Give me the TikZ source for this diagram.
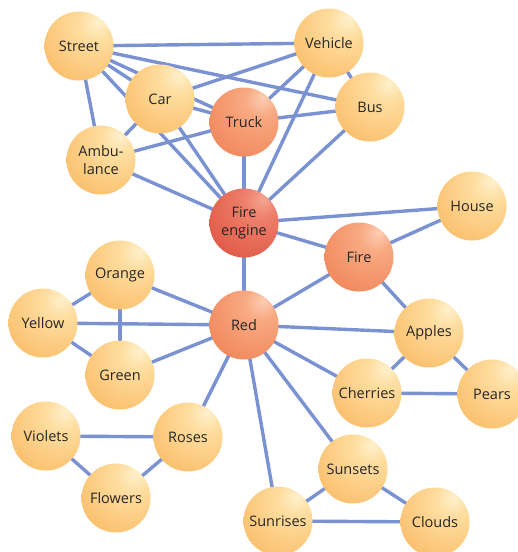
\documentclass[tikz,border=0pt]{standalone}
\usepackage{fontspec}
\setmainfont{Open Sans}
\usetikzlibrary{backgrounds}
\definecolor{edgeblue}{HTML}{7A92D2}
\definecolor{txt}{HTML}{262626}
\pgfdeclareradialshading{orangeball}{\pgfpoint{14bp}{18bp}}{%
  color(0bp)=(rgb,255:red,255;green,240;blue,205);
  color(12bp)=(rgb,255:red,254;green,222;blue,160);
  color(45bp)=(rgb,255:red,250;green,186;blue,100);
  color(75bp)=(rgb,255:red,245;green,158;blue,70);
  color(100bp)=(rgb,255:red,245;green,158;blue,70)}
\pgfdeclareradialshading{salmonball}{\pgfpoint{14bp}{18bp}}{%
  color(0bp)=(rgb,255:red,252;green,205;blue,180);
  color(12bp)=(rgb,255:red,248;green,170;blue,130);
  color(45bp)=(rgb,255:red,240;green,130;blue,86);
  color(75bp)=(rgb,255:red,234;green,110;blue,72);
  color(100bp)=(rgb,255:red,234;green,110;blue,72)}
\pgfdeclareradialshading{redball}{\pgfpoint{14bp}{18bp}}{%
  color(0bp)=(rgb,255:red,245;green,165;blue,145);
  color(12bp)=(rgb,255:red,238;green,128;blue,108);
  color(45bp)=(rgb,255:red,222;green,84;blue,64);
  color(75bp)=(rgb,255:red,206;green,60;blue,44);
  color(100bp)=(rgb,255:red,206;green,60;blue,44)}
\tikzset{
  ball/.style={circle, minimum size=69pt, inner sep=0pt, shading=orangeball,
    text=txt, align=center, font=\fontsize{14.5}{17.5}\selectfont},
  hotball/.style={ball, shading=salmonball},
  fireball/.style={ball, shading=redball},
  link/.style={draw=edgeblue, line width=3.4pt}
}
\begin{document}
\begin{tikzpicture}[x=1pt,y=-1pt]
\useasboundingbox (0,0) rectangle (518,552);
\node[ball] (street) at (79,46) {Street};
\node[ball] (vehicle) at (329,43) {Vehicle};
\node[ball] (car) at (160,99) {Car};
\node[ball] (bus) at (370,107) {Bus};
\node[hotball] (truck) at (244,122) {Truck};
\node[ball] (amb) at (101,160) {Ambu-\\lance};
\node[fireball] (fe) at (244,223) {Fire\\engine};
\node[ball] (house) at (472,206) {House};
\node[hotball] (fire) at (359,257) {Fire};
\node[ball] (orange) at (120,275) {Orange};
\node[ball] (yellow) at (43,323) {Yellow};
\node[hotball] (red) at (244,325) {Red};
\node[ball] (apples) at (429,333) {Apples};
\node[ball] (green) at (120,375) {Green};
\node[ball] (cherries) at (367,393) {Cherries};
\node[ball] (pears) at (492,394) {Pears};
\node[ball] (violets) at (46,436) {Violets};
\node[ball] (roses) at (188,437) {Roses};
\node[ball] (sunsets) at (353,469) {Sunsets};
\node[ball] (flowers) at (116,498) {Flowers};
\node[ball] (sunrises) at (278,521) {Sunrises};
\node[ball] (clouds) at (435,522) {Clouds};
\begin{scope}[on background layer]
\foreach \a/\b in {street/vehicle, street/bus, street/truck, street/car, street/amb, street/fe,
  car/vehicle, car/truck, car/amb, car/fe, amb/truck, amb/fe,
  truck/vehicle, truck/bus, truck/fe, vehicle/bus, vehicle/fe, bus/fe,
  fe/house, fe/fire, fe/red, fire/house, fire/red, fire/apples,
  orange/yellow, orange/green, orange/red, yellow/red, yellow/green, green/red,
  red/apples, red/cherries, red/roses, red/sunrises, red/sunsets,
  apples/cherries, apples/pears, cherries/pears,
  violets/roses, violets/flowers, roses/flowers,
  sunsets/sunrises, sunsets/clouds, sunrises/clouds}
  \draw[link] (\a.center) -- (\b.center);
\end{scope}
\end{tikzpicture}
\end{document}
